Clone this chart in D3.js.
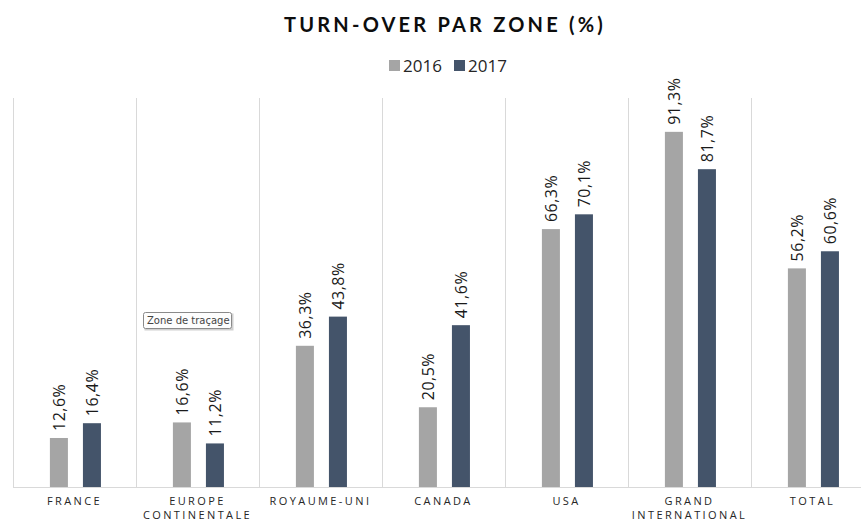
<!DOCTYPE html>
<html>
<head>
<meta charset="utf-8">
<script src="https://cdn.jsdelivr.net/npm/d3@7"></script>
<style>
  body { margin: 0; background: #fff; }
  svg { display: block; }
</style>
</head>
<body>
<svg id="chart" width="861" height="521"></svg>
<script>
const zones = [["FRANCE"], ["EUROPE", "CONTINENTALE"], ["ROYAUME-UNI"], ["CANADA"], ["USA"], ["GRAND", "INTERNATIONAL"], ["TOTAL"]];
const years = ["2016", "2017"];
const values2016 = [12.6, 16.6, 36.3, 20.5, 66.3, 91.3, 56.2];
const values2017 = [16.4, 11.2, 43.8, 41.6, 70.1, 81.7, 60.6];
const colors = ["#a5a5a5", "#44546a"];

let svg = d3.select("#chart");
let width = 861;
let plotLeft = 13, plotRight = 874, plotTop = 98, plotBottom = 487;

let keys = zones.map(z => z.join(" "));
let x0 = d3.scaleBand().domain(keys).range([plotLeft, plotRight]).padding(0);
let bw = x0.bandwidth();
let x1 = d3.scaleBand().domain(years).range([bw * 0.30, bw * 0.715]).paddingInner(0.4545);
let y = d3.scaleLinear().domain([0, 100]).range([plotBottom, plotTop]);

// vertical separators
svg.append("g").selectAll("line")
    .data(keys)
    .join("line")
    .attr("x1", d => x0(d) + 0.5)
    .attr("x2", d => x0(d) + 0.5)
    .attr("y1", y(100))
    .attr("y2", y(0))
    .attr("stroke", "#d9d9d9")
    .attr("stroke-width", 1);

// baseline
svg.append("line")
    .attr("x1", plotLeft)
    .attr("x2", width)
    .attr("y1", y(0) + 0.5)
    .attr("y2", y(0) + 0.5)
    .attr("stroke", "#d9d9d9");

let series = [values2016, values2017];
let rows = [];
keys.forEach((k, i) => {
    years.forEach((yr, j) => rows.push({ key: k, year: yr, value: series[j][i], color: colors[j] }));
});

svg.append("g").selectAll("rect")
    .data(rows)
    .join("rect")
    .attr("x", d => x0(d.key) + x1(d.year))
    .attr("y", d => y(d.value))
    .attr("width", x1.bandwidth())
    .attr("height", d => y(0) - y(d.value))
    .attr("fill", d => d.color);

// value labels, rotated
svg.append("g").selectAll("text")
    .data(rows)
    .join("text")
    .attr("transform", d => `translate(${x0(d.key) + x1(d.year) + x1.bandwidth() / 2 + 6},${y(d.value) - 7}) rotate(-90)`)
    .attr("font-family", "'Open Sans', sans-serif")
    .attr("font-size", 16)
    .attr("fill", "#1a1a1a")
    .attr("letter-spacing", 0.5)
    .text(d => d.value.toFixed(1).replace(".", ",") + "%");

// category labels
let cat = svg.append("g").selectAll("text")
    .data(zones)
    .join("text")
    .attr("x", (d, i) => x0(keys[i]) + bw / 2)
    .attr("y", 505)
    .attr("text-anchor", "middle")
    .attr("font-family", "'Open Sans', sans-serif")
    .attr("font-size", 11)
    .attr("letter-spacing", 2.4)
    .attr("fill", "#262626");
cat.selectAll("tspan")
    .data(d => d)
    .join("tspan")
    .attr("x", function () { return this.parentNode.getAttribute("x"); })
    .attr("dy", (d, i) => i === 0 ? 0 : 14)
    .text(d => d);

// title
svg.append("text")
    .attr("x", 445)
    .attr("y", 32)
    .attr("text-anchor", "middle")
    .attr("font-family", "Lato, sans-serif")
    .attr("font-weight", "bold")
    .attr("font-size", 20)
    .attr("letter-spacing", 3.2)
    .attr("fill", "#0d0d0d")
    .text("TURN-OVER PAR ZONE (%)");

// legend
let legendX = [389, 454];
let legend = svg.append("g").selectAll("g")
    .data(years)
    .join("g")
    .attr("transform", (d, i) => `translate(${legendX[i]},60)`);
legend.append("rect")
    .attr("width", 11)
    .attr("height", 11)
    .attr("fill", (d, i) => colors[i]);
legend.append("text")
    .attr("x", 14)
    .attr("y", 12)
    .attr("font-family", "'Open Sans', sans-serif")
    .attr("font-size", 17)
    .attr("fill", "#262626")
    .text(d => d);

// tooltip left in the screenshot
let tip = svg.append("g").attr("transform", "translate(143,312)");
tip.append("rect")
    .attr("x", 1.5).attr("y", 1.5)
    .attr("width", 89).attr("height", 17)
    .attr("fill", "#d0d0d0");
tip.append("rect")
    .attr("x", 0.5).attr("y", 0.5)
    .attr("width", 88).attr("height", 16)
    .attr("rx", 2)
    .attr("fill", "#fdfdfd")
    .attr("stroke", "#8a8a8a");
tip.append("text")
    .attr("x", 4)
    .attr("y", 12)
    .attr("font-family", "'DejaVu Sans', sans-serif")
    .attr("font-size", 10)
    .attr("fill", "#444")
    .text("Zone de traçage");
</script>
</body>
</html>
